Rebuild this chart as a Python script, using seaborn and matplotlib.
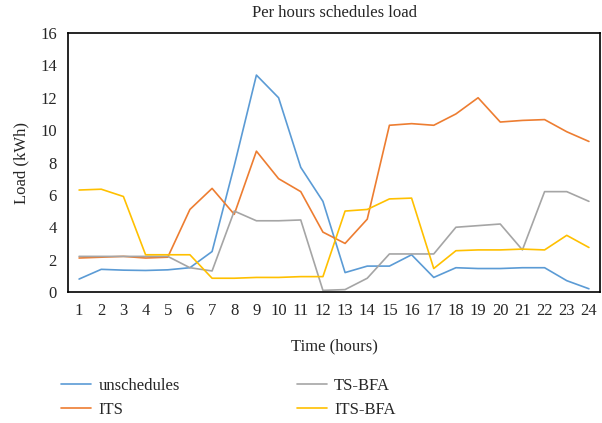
import pandas as pd
import seaborn as sns
import matplotlib.pyplot as plt

hours = list(range(1, 25))
unschedules = [0.8, 1.4, 1.35, 1.33, 1.37, 1.5, 2.5, 7.8, 13.4, 12.0, 7.7, 5.6,
               1.2, 1.6, 1.6, 2.3, 0.9, 1.5, 1.45, 1.45, 1.5, 1.5, 0.7, 0.2]
its = [2.1, 2.15, 2.2, 2.1, 2.15, 5.1, 6.4, 4.8, 8.7, 7.0, 6.2, 3.7,
       3.0, 4.5, 10.3, 10.4, 10.3, 11.0, 12.0, 10.5, 10.6, 10.65, 9.9, 9.3]
ts_bfa = [2.2, 2.2, 2.2, 2.2, 2.2, 1.5, 1.3, 5.0, 4.4, 4.4, 4.45, 0.1,
          0.15, 0.85, 2.35, 2.35, 2.35, 4.0, 4.1, 4.2, 2.6, 6.2, 6.2, 5.6]
its_bfa = [6.3, 6.35, 5.9, 2.3, 2.3, 2.3, 0.85, 0.85, 0.9, 0.9, 0.95, 0.95,
           5.0, 5.1, 5.75, 5.8, 1.45, 2.55, 2.6, 2.6, 2.65, 2.6, 3.5, 2.75]

series = {'unschedules': unschedules, 'ITS': its, 'TS-BFA': ts_bfa, 'ITS-BFA': its_bfa}
colors = ['#5B9BD5', '#ED7D31', '#A5A5A5', '#FFC000']

data = pd.concat([pd.DataFrame({'hour': hours, 'load': v, 'series': k})
                  for k, v in series.items()])

sns.set_style('white')
plt.rcParams['font.family'] = ['Liberation Serif', 'DejaVu Serif']
plt.rcParams['font.size'] = 12

fig = plt.figure(figsize=(6.02, 4.23), dpi=100)
ax = fig.add_axes([68 / 602, 1 - 292 / 423, 532 / 602, 259 / 423])

sns.lineplot(data=data, x='hour', y='load', hue='series', palette=colors,
             linewidth=1.2, ax=ax, legend=False)

ax.set_xlim(0.5, 24.5)
ax.set_ylim(0, 16)
ax.set_xticks(hours)
ax.set_yticks(range(0, 17, 2))
ax.tick_params(length=0, labelsize=12, pad=8)
for s in ax.spines.values():
    s.set_visible(True)
    s.set_color('black')
    s.set_linewidth(1.2)

ax.set_xlabel('Time (hours)', fontsize=12, labelpad=14)
ax.set_ylabel('Load (kWh)', fontsize=12, labelpad=8)
fig.text(0.5 + 34 / 602, 1 - 13 / 423, 'Per hours schedules load',
         ha='center', va='center', fontsize=12)

handles = [plt.Line2D([], [], color=c, linewidth=1.2) for c in colors]
fig.legend(handles, list(series.keys()), ncol=2, loc='upper left',
           bbox_to_anchor=(46 / 602, 1 - 363 / 423), frameon=False,
           fontsize=12, handlelength=1.8, columnspacing=7.0,
           labelspacing=0.45, handletextpad=0.45)

fig.savefig('out.png', dpi=100)
